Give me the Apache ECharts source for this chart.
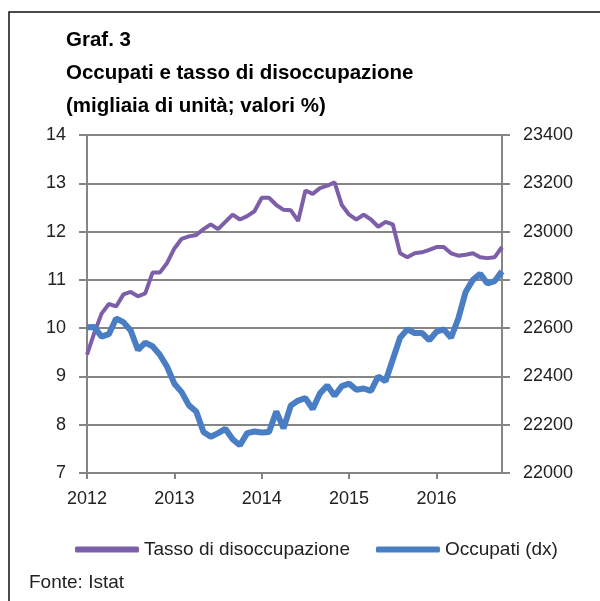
<!DOCTYPE html>
<html>
<head>
<meta charset="utf-8">
<script src="https://cdn.jsdelivr.net/npm/echarts@6/dist/echarts.min.js"></script>
<style>
html, body { margin: 0; padding: 0; background: #fff; }
#main { width: 600px; height: 601px; }
</style>
</head>
<body>
<div id="main"></div>
<script>
// dati (mensili, gen 2012 - ott 2016)
const years = [2012, 2013, 2014, 2015, 2016];
const months = [];
for (let y = 2012; y <= 2016; y++) {
    for (let m = 1; m <= 12; m++) {
        if (y === 2016 && m > 10) break;
        months.push(y + '-' + (m < 10 ? '0' + m : m));
    }
}

// tasso di disoccupazione (%), asse sinistro
const tasso = [
    9.45, 9.9, 10.3, 10.5, 10.45, 10.7, 10.75, 10.66, 10.72, 11.15, 11.15, 11.35,
    11.65, 11.85, 11.9, 11.93, 12.05, 12.15, 12.05, 12.2, 12.35, 12.25, 12.32, 12.42,
    12.7, 12.7, 12.55, 12.45, 12.44, 12.22, 12.85, 12.78, 12.9, 12.95, 13.02, 12.55,
    12.35, 12.25, 12.35, 12.25, 12.1, 12.2, 12.15, 11.55, 11.47, 11.55, 11.57, 11.62,
    11.68, 11.68, 11.55, 11.5, 11.52, 11.55, 11.47, 11.45, 11.47, 11.68
];

// occupati (migliaia), asse destro
const occupati = [
    22604, 22605, 22565, 22575, 22640, 22625, 22590, 22510, 22540, 22525, 22490, 22440,
    22370, 22335, 22280, 22255, 22170, 22150, 22165, 22183, 22140, 22115, 22165, 22172,
    22168, 22170, 22255, 22185, 22280, 22300, 22310, 22265, 22330, 22362, 22320, 22360,
    22370, 22345, 22350, 22340, 22400, 22380, 22470, 22560, 22595, 22580, 22580, 22550,
    22585, 22595, 22560, 22640, 22750, 22800, 22825, 22785, 22795, 22835
];

const seriesNames = ['Tasso di disoccupazione', 'Occupati (dx)'];

const chartDom = document.getElementById('main');
const myChart = echarts.init(chartDom);
const gray = '#858585';
const labelStyle = { color: '#222', fontFamily: 'Liberation Sans', fontSize: 18 };
const titleFont = 'bold 20.5px "Liberation Sans"';

const option = {
    animation: false,
    backgroundColor: '#fff',
    graphic: [
        {
            type: 'polyline',
            shape: { points: [[9, 601], [9, 12], [600, 12]] },
            style: { stroke: '#111', lineWidth: 1.5, fill: null }
        },
        {
            type: 'text', left: 66, top: 30,
            style: { text: 'Graf. 3', font: titleFont, fill: '#000' }
        },
        {
            type: 'text', left: 66, top: 63,
            style: { text: 'Occupati e tasso di disoccupazione', font: titleFont, fill: '#000' }
        },
        {
            type: 'text', left: 66, top: 96,
            style: { text: '(migliaia di unità; valori %)', font: titleFont, fill: '#000' }
        },
        {
            type: 'text', left: 29, top: 573,
            style: { text: 'Fonte: Istat', font: '19px "Liberation Sans"', fill: '#222' }
        }
    ],
    grid: { left: 87, right: 98, top: 135, bottom: 128 },
    legend: {
        left: 70,
        top: 535,
        icon: 'roundRect',
        itemWidth: 64,
        itemHeight: 6,
        itemGap: 26,
        textStyle: { color: '#222', fontFamily: 'Liberation Sans', fontSize: 19 },
        data: seriesNames
    },
    xAxis: {
        type: 'category',
        data: months,
        boundaryGap: false,
        axisLine: { lineStyle: { color: gray, width: 2 } },
        axisTick: {
            length: 6,
            interval: function (idx) { return idx % 12 === 0; },
            lineStyle: { color: gray, width: 2 }
        },
        axisLabel: Object.assign({
            margin: 17,
            interval: function (idx) { return idx % 12 === 0; },
            formatter: function (v) { return v.slice(0, 4); }
        }, labelStyle),
        splitLine: { show: false }
    },
    yAxis: [
        {
            type: 'value',
            min: 7,
            max: 14,
            interval: 1,
            axisLine: { show: true, lineStyle: { color: gray, width: 2 } },
            axisTick: { show: true, length: 8, lineStyle: { color: gray, width: 2 } },
            axisLabel: Object.assign({ margin: 21 }, labelStyle),
            splitLine: { lineStyle: { color: gray, width: 2 } }
        },
        {
            type: 'value',
            min: 22000,
            max: 23400,
            interval: 200,
            position: 'right',
            axisLine: { show: true, lineStyle: { color: gray, width: 2 } },
            axisTick: { show: true, length: 8, lineStyle: { color: gray, width: 2 } },
            axisLabel: Object.assign({
                margin: 21,
                formatter: function (v) { return String(v); }
            }, labelStyle),
            splitLine: { show: false }
        }
    ],
    series: [
        {
            name: seriesNames[0],
            type: 'line',
            yAxisIndex: 0,
            data: tasso,
            showSymbol: false,
            color: '#7d5ea8',
            lineStyle: { width: 4, color: '#7d5ea8' }
        },
        {
            name: seriesNames[1],
            type: 'line',
            yAxisIndex: 1,
            data: occupati,
            showSymbol: false,
            color: '#4a7ec4',
            lineStyle: { width: 6, color: '#4a7ec4' }
        }
    ]
};

option && myChart.setOption(option);
</script>
</body>
</html>
